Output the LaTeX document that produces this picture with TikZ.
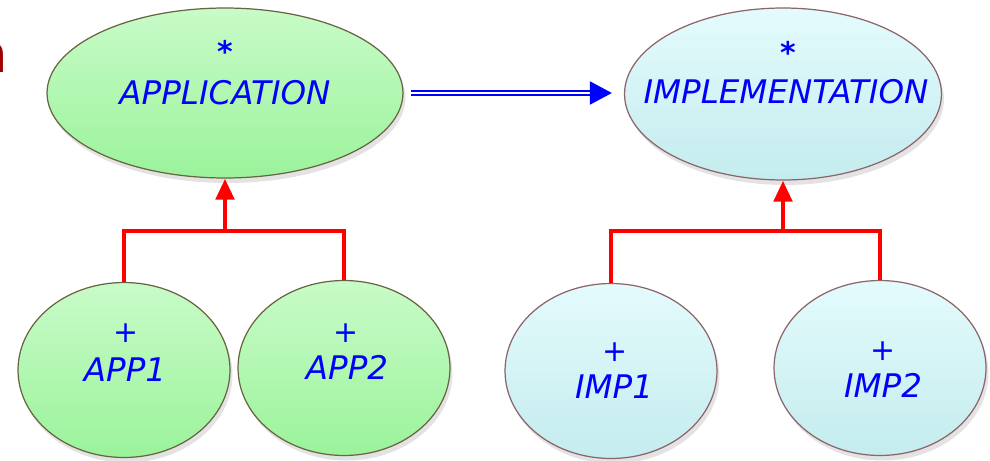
\documentclass[tikz,border=0pt]{standalone}
\usepackage{fontspec}
\newfontfamily\comicfont{DejaVu Sans}
\usepackage{tikz}
\usetikzlibrary{arrows.meta,positioning,shapes.geometric,shadows}
\definecolor{appgreen}{RGB}{155,243,155}
\definecolor{applight}{RGB}{200,251,200}
\definecolor{appedge}{RGB}{105,100,65}
\definecolor{impblue}{RGB}{196,236,238}
\definecolor{implight}{RGB}{228,251,252}
\definecolor{impedge}{RGB}{140,100,106}
\definecolor{inhred}{RGB}{255,0,0}
\definecolor{clientblue}{RGB}{0,0,255}
\definecolor{cutred}{RGB}{160,0,0}

\begin{document}
\begin{tikzpicture}[x=0.02cm,y=-0.02cm,
  cls/.style={ellipse,draw,line width=0.7pt,inner sep=0pt,
    drop shadow={opacity=0.22,shadow xshift=0.05cm,shadow yshift=-0.1cm}},
  appcls/.style={cls,draw=appedge,top color=applight,middle color=appgreen,bottom color=appgreen},
  impcls/.style={cls,draw=impedge,top color=implight,middle color=impblue,bottom color=impblue},
  big/.style={minimum width=7.12cm,minimum height=3.4cm},
  small/.style={minimum width=4.24cm,minimum height=3.5cm},
  clsname/.style={text=clientblue,inner sep=0pt,
    font=\comicfont\itshape\fontsize{18.5}{22}\selectfont},
  clsmark/.style={text=clientblue,inner sep=0pt,
    font=\comicfont\fontsize{17}{20}\selectfont},
  inherit/.style={draw=inhred,line width=2.8pt},
  client/.style={draw=clientblue,double,line width=1.1pt,double distance=1.6pt,
    -{Triangle[width=0.46cm,length=0.44cm]},shorten <=0.14cm,shorten >=0.24cm}
]
  \useasboundingbox (0,0) rectangle (990,460);

  % deferred classes
  \node[appcls,big] (app) at (225,93) {};
  \node[clsname] (appn) at (225,93) {APPLICATION};
  \node[clsmark,font=\comicfont\bfseries\fontsize{17}{20}\selectfont] (apps) at (225,51) {*};
  \node[impcls,minimum width=6.34cm,minimum height=3.44cm] (imp) at (783,94) {};
  \node[clsname] (impn) at (786,92) {IMPLEMENTATION};
  \node[clsmark,font=\comicfont\bfseries\fontsize{17}{20}\selectfont] (imps) at (788,52) {*};

  % effective classes
  \node[appcls,small] (app1) at (124,370) {};
  \node[clsname] (app1n) at (125,370) {APP1};
  \node[clsmark] (app1s) at (126,333) {+};
  \node[appcls,small] (app2) at (344,368) {};
  \node[clsname] (app2n) at (347,367) {APP2};
  \node[clsmark] (app2s) at (346,333) {+};
  \node[impcls,small] (imp1) at (611,371) {};
  \node[clsname] (imp1n) at (614,387) {IMP1};
  \node[clsmark] (imp1s) at (615,352) {+};
  \node[impcls,small] (imp2) at (880,368) {};
  \node[clsname] (imp2n) at (883,385) {IMP2};
  \node[clsmark] (imp2s) at (883,351) {+};

  \node[anchor=east,text=cutred,inner sep=0pt,font=\comicfont\fontsize{30}{30}\selectfont] (cut) at (8,58) {n};

  % inheritance
  \coordinate (appj) at (225,231);
  \coordinate (impj) at (783,231);
  \draw[inherit] (app1.north) |- (appj) -| (app2.north);
  \draw[inherit,-{Triangle[width=0.36cm,length=0.42cm]}] (appj) -- (app.south);
  \draw[inherit] (imp1.north) |- (impj) -| (imp2.north);
  \draw[inherit,-{Triangle[width=0.36cm,length=0.42cm]}] (impj) -- (imp.south);

  % client
  \draw[client] (app.east) -- (app.east -| imp.west);
\end{tikzpicture}
\end{document}
